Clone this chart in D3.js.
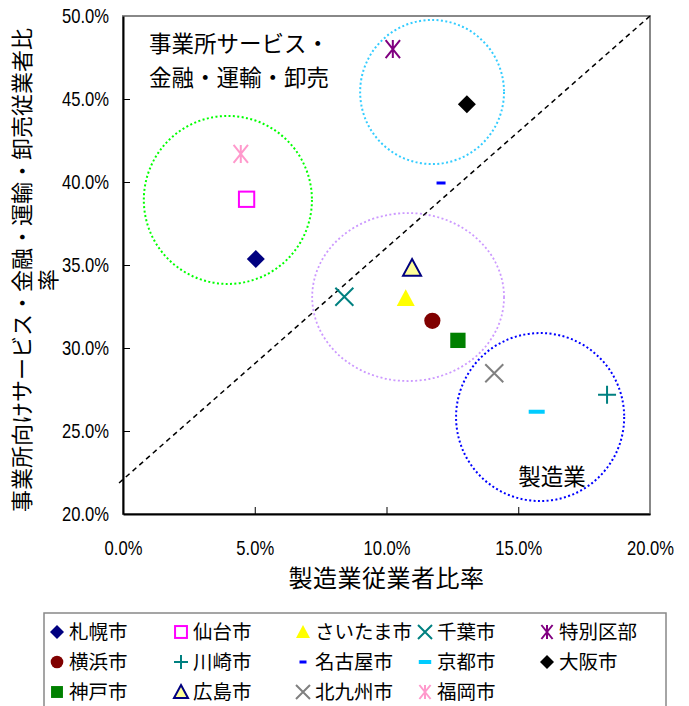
<!DOCTYPE html>
<html>
<head>
<meta charset="utf-8">
<script src="https://cdn.jsdelivr.net/npm/d3@7"></script>
<style>
  html, body { margin: 0; padding: 0; background: #fff; }
  svg { display: block; }
  .jp { font-family: "Noto Sans CJK JP", "Noto Sans", sans-serif; }
  .num { font-family: "Liberation Sans", Arial, sans-serif; }
</style>
</head>
<body>
<svg id="chart" width="689" height="706"></svg>
<script>
// Employment shares by city (%): manufacturing vs. business services / finance / transport / wholesale
const cities = ["札幌市", "仙台市", "さいたま市", "千葉市", "特別区部",
                "横浜市", "川崎市", "名古屋市", "京都市", "大阪市",
                "神戸市", "広島市", "北九州市", "福岡市"];
const manufacturingShare = [5.04, 4.69, 10.73, 8.40, 10.24,
                            11.74, 18.37, 12.07, 15.70, 13.05,
                            12.71, 10.97, 14.09, 4.47];
const serviceShare = [35.36, 38.96, 32.99, 33.09, 48.01,
                      31.64, 27.19, 39.94, 26.16, 44.68,
                      30.46, 34.82, 28.48, 41.69];

const xTicks = [0, 5, 10, 15, 20];
const yTicks = [20, 25, 30, 35, 40, 45, 50];

// Reference line across the plot (x%, y%)
const guideLine = [[-0.15, 21.87], [20, 50]];

// Grouping rings (centre and radii in axis units)
const groupNames = ["service", "major", "mid", "manufacturing"];
const groupCx = [3.98, 11.73, 10.82, 15.83];
const groupCy = [38.92, 45.42, 33.07, 25.84];
const groupRx = [3.19, 2.73, 3.64, 3.19];
const groupRy = [5.06, 4.34, 5.06, 5.06];

// Marker styles per city
const markerStyle = {
  "札幌市":   { kind: "diamond",  fill: "#000080", stroke: "none" },
  "仙台市":   { kind: "square",   fill: "#ffffff", stroke: "#ff00ff", hollow: true },
  "さいたま市": { kind: "triangle", fill: "#ffff00", stroke: "none" },
  "千葉市":   { kind: "x",        fill: "none",    stroke: "#008080" },
  "特別区部": { kind: "star",     fill: "none",    stroke: "#800080" },
  "横浜市":   { kind: "circle",   fill: "#800000", stroke: "none" },
  "川崎市":   { kind: "plus",     fill: "none",    stroke: "#008080" },
  "名古屋市": { kind: "dash",     fill: "#0000ff", stroke: "none", w: 9, h: 3 },
  "京都市":   { kind: "dash",     fill: "#00ccff", stroke: "none", w: 16, h: 4 },
  "大阪市":   { kind: "diamond",  fill: "#000000", stroke: "none" },
  "神戸市":   { kind: "square",   fill: "#008000", stroke: "none" },
  "広島市":   { kind: "triangle", fill: "#ffff99", stroke: "#000080", hollow: true },
  "北九州市": { kind: "x",        fill: "none",    stroke: "#808080" },
  "福岡市":   { kind: "star",     fill: "none",    stroke: "#ff99cc" }
};
const ringStyle = {
  service:       { color: "#00ff00", width: 2, dash: "2,2.4" },
  major:         { color: "#33ccff", width: 2, dash: "2,2.4" },
  mid:           { color: "#cc99ff", width: 1.8, dash: "2,2.4" },
  manufacturing: { color: "#0000ff", width: 2, dash: "2,2.4" }
};

const svg = d3.select("#chart");
const plot = { left: 123, right: 650, top: 16, bottom: 514 };

const x = d3.scaleLinear().domain([0, 20]).range([plot.left, plot.right]);
const y = d3.scaleLinear().domain([20, 50]).range([plot.bottom, plot.top]);

// Plot frame (top/right in grey)
svg.append("rect")
  .attr("x", plot.left).attr("y", plot.top)
  .attr("width", plot.right - plot.left).attr("height", plot.bottom - plot.top)
  .attr("fill", "#fff").attr("stroke", "#888").attr("stroke-width", 2);

// Grouping rings
const rings = groupNames.map((g, i) => ({ g, cx: groupCx[i], cy: groupCy[i], rx: groupRx[i], ry: groupRy[i] }));
svg.append("g").selectAll("ellipse").data(rings).join("ellipse")
  .attr("cx", d => x(d.cx)).attr("cy", d => y(d.cy))
  .attr("rx", d => x(d.cx + d.rx) - x(d.cx))
  .attr("ry", d => y(d.cy) - y(d.cy + d.ry))
  .attr("fill", "none")
  .attr("stroke", d => ringStyle[d.g].color)
  .attr("stroke-width", d => ringStyle[d.g].width)
  .attr("stroke-dasharray", d => ringStyle[d.g].dash);

// Dashed guide line
svg.append("path")
  .attr("d", d3.line().x(d => x(d[0])).y(d => y(d[1]))(guideLine))
  .attr("fill", "none").attr("stroke", "#000")
  .attr("stroke-width", 1.5).attr("stroke-dasharray", "5,4");

// Axes (ticks point inward)
const fmt = d => d.toFixed(1) + "%";
const xAxis = svg.append("g").attr("transform", `translate(0,${plot.bottom})`)
  .call(d3.axisBottom(x).tickValues(xTicks).tickFormat(fmt).tickSizeInner(-7).tickSizeOuter(0).tickPadding(26));
const yAxis = svg.append("g").attr("transform", `translate(${plot.left},0)`)
  .call(d3.axisLeft(y).tickValues(yTicks).tickFormat(fmt).tickSizeInner(-7).tickSizeOuter(0).tickPadding(14));
[xAxis, yAxis].forEach(a => {
  a.select(".domain").attr("stroke", "#000").attr("stroke-width", 2);
  a.selectAll(".tick line").attr("stroke", "#000").attr("stroke-width", 1);
  a.selectAll(".tick text").attr("class", "num").attr("font-size", 21).attr("fill", "#000")
    .each(function () {
      // narrow the tick labels horizontally
      const w = this.getComputedTextLength();
      d3.select(this).attr("textLength", w * 0.79).attr("lengthAdjust", "spacingAndGlyphs");
    });
});
yAxis.select(".tick:first-of-type line").remove();
xAxis.select(".tick:first-of-type line").remove();
xAxis.select(".tick:last-of-type line").remove();
yAxis.select(".tick:last-of-type line").remove();

// Marker drawing
function drawMarker(g, st, s) {
  const sw = 2;
  switch (st.kind) {
    case "diamond":
      g.append("path").attr("d", `M0,${-s}L${s},0L0,${s}L${-s},0Z`).attr("fill", st.fill);
      break;
    case "square": {
      const h = s * 0.85;
      g.append("rect").attr("x", -h).attr("y", -h).attr("width", 2 * h).attr("height", 2 * h)
        .attr("fill", st.fill).attr("stroke", st.hollow ? st.stroke : "none").attr("stroke-width", sw);
      break;
    }
    case "triangle":
      g.append("path").attr("d", `M0,${-s}L${s},${s * 0.85}L${-s},${s * 0.85}Z`)
        .attr("fill", st.fill).attr("stroke", st.hollow ? st.stroke : "none").attr("stroke-width", sw)
        .attr("stroke-linejoin", "miter");
      break;
    case "circle":
      g.append("circle").attr("r", s * 0.9).attr("fill", st.fill);
      break;
    case "x":
      g.append("path").attr("d", `M${-s},${-s}L${s},${s}M${-s},${s}L${s},${-s}`)
        .attr("stroke", st.stroke).attr("stroke-width", sw).attr("fill", "none");
      break;
    case "plus":
      g.append("path").attr("d", `M${-s},0L${s},0M0,${-s}L0,${s}`)
        .attr("stroke", st.stroke).attr("stroke-width", sw).attr("fill", "none");
      break;
    case "star":
      g.append("path").attr("d", `M${-s * 0.8},${-s}L${s * 0.8},${s}M${-s * 0.8},${s}L${s * 0.8},${-s}M0,${-s}L0,${s}`)
        .attr("stroke", st.stroke).attr("stroke-width", sw).attr("fill", "none");
      break;
    case "dash": {
      const k = s / 9;
      g.append("rect").attr("x", -st.w * k / 2).attr("y", -st.h / 2)
        .attr("width", st.w * k).attr("height", st.h).attr("fill", st.fill);
      break;
    }
  }
}

const points = cities.map((c, i) => ({ city: c, xv: manufacturingShare[i], yv: serviceShare[i] }));
svg.append("g").selectAll("g").data(points).join("g")
  .attr("transform", d => `translate(${x(d.xv)},${y(d.yv)})`)
  .each(function (d) { drawMarker(d3.select(this), markerStyle[d.city], 9); });

// In-plot group labels
const note = svg.append("text").attr("class", "jp").attr("font-size", 22.5).attr("fill", "#000");
note.append("tspan").attr("x", 149).attr("y", 52).text("事業所サービス・");
note.append("tspan").attr("x", 149).attr("y", 86).text("金融・運輸・卸売");
svg.append("text").attr("class", "jp").attr("font-size", 22.5).attr("text-anchor", "middle")
  .attr("x", 552).attr("y", 485).text("製造業");

// Axis titles
svg.append("text").attr("class", "jp").attr("font-size", 24).attr("letter-spacing", 0.5)
  .attr("text-anchor", "middle").attr("x", (plot.left + plot.right) / 2).attr("y", 587)
  .text("製造業従業者比率");
const yt = svg.append("g").attr("transform", "translate(22,270) rotate(-90)");
yt.append("text").attr("class", "jp").attr("font-size", 22).attr("text-anchor", "middle")
  .attr("dy", "0.36em").text("事業所向けサービス・金融・運輸・卸売従業者比");
yt.append("text").attr("class", "jp").attr("font-size", 22).attr("text-anchor", "middle")
  .attr("x", -10).attr("y", 26).attr("dy", "0.36em").text("率");

// Legend
const legend = svg.append("g");
legend.append("rect").attr("x", 44).attr("y", 613).attr("width", 622).attr("height", 110)
  .attr("fill", "#fff").attr("stroke", "#888").attr("stroke-width", 1.5);
const colX = [69, 193, 315, 437, 559];
const rowY = [632, 662, 692];
cities.forEach((c, i) => {
  const col = i % 5, row = Math.floor(i / 5);
  const item = legend.append("g").attr("transform", `translate(${colX[col]},${rowY[row]})`);
  drawMarker(item.append("g").attr("transform", "translate(-12,0)"), markerStyle[c], 7);
  item.append("text").attr("class", "jp").attr("font-size", 19.5).attr("x", 0).attr("dy", "0.36em").text(c);
});
</script>
</body>
</html>
